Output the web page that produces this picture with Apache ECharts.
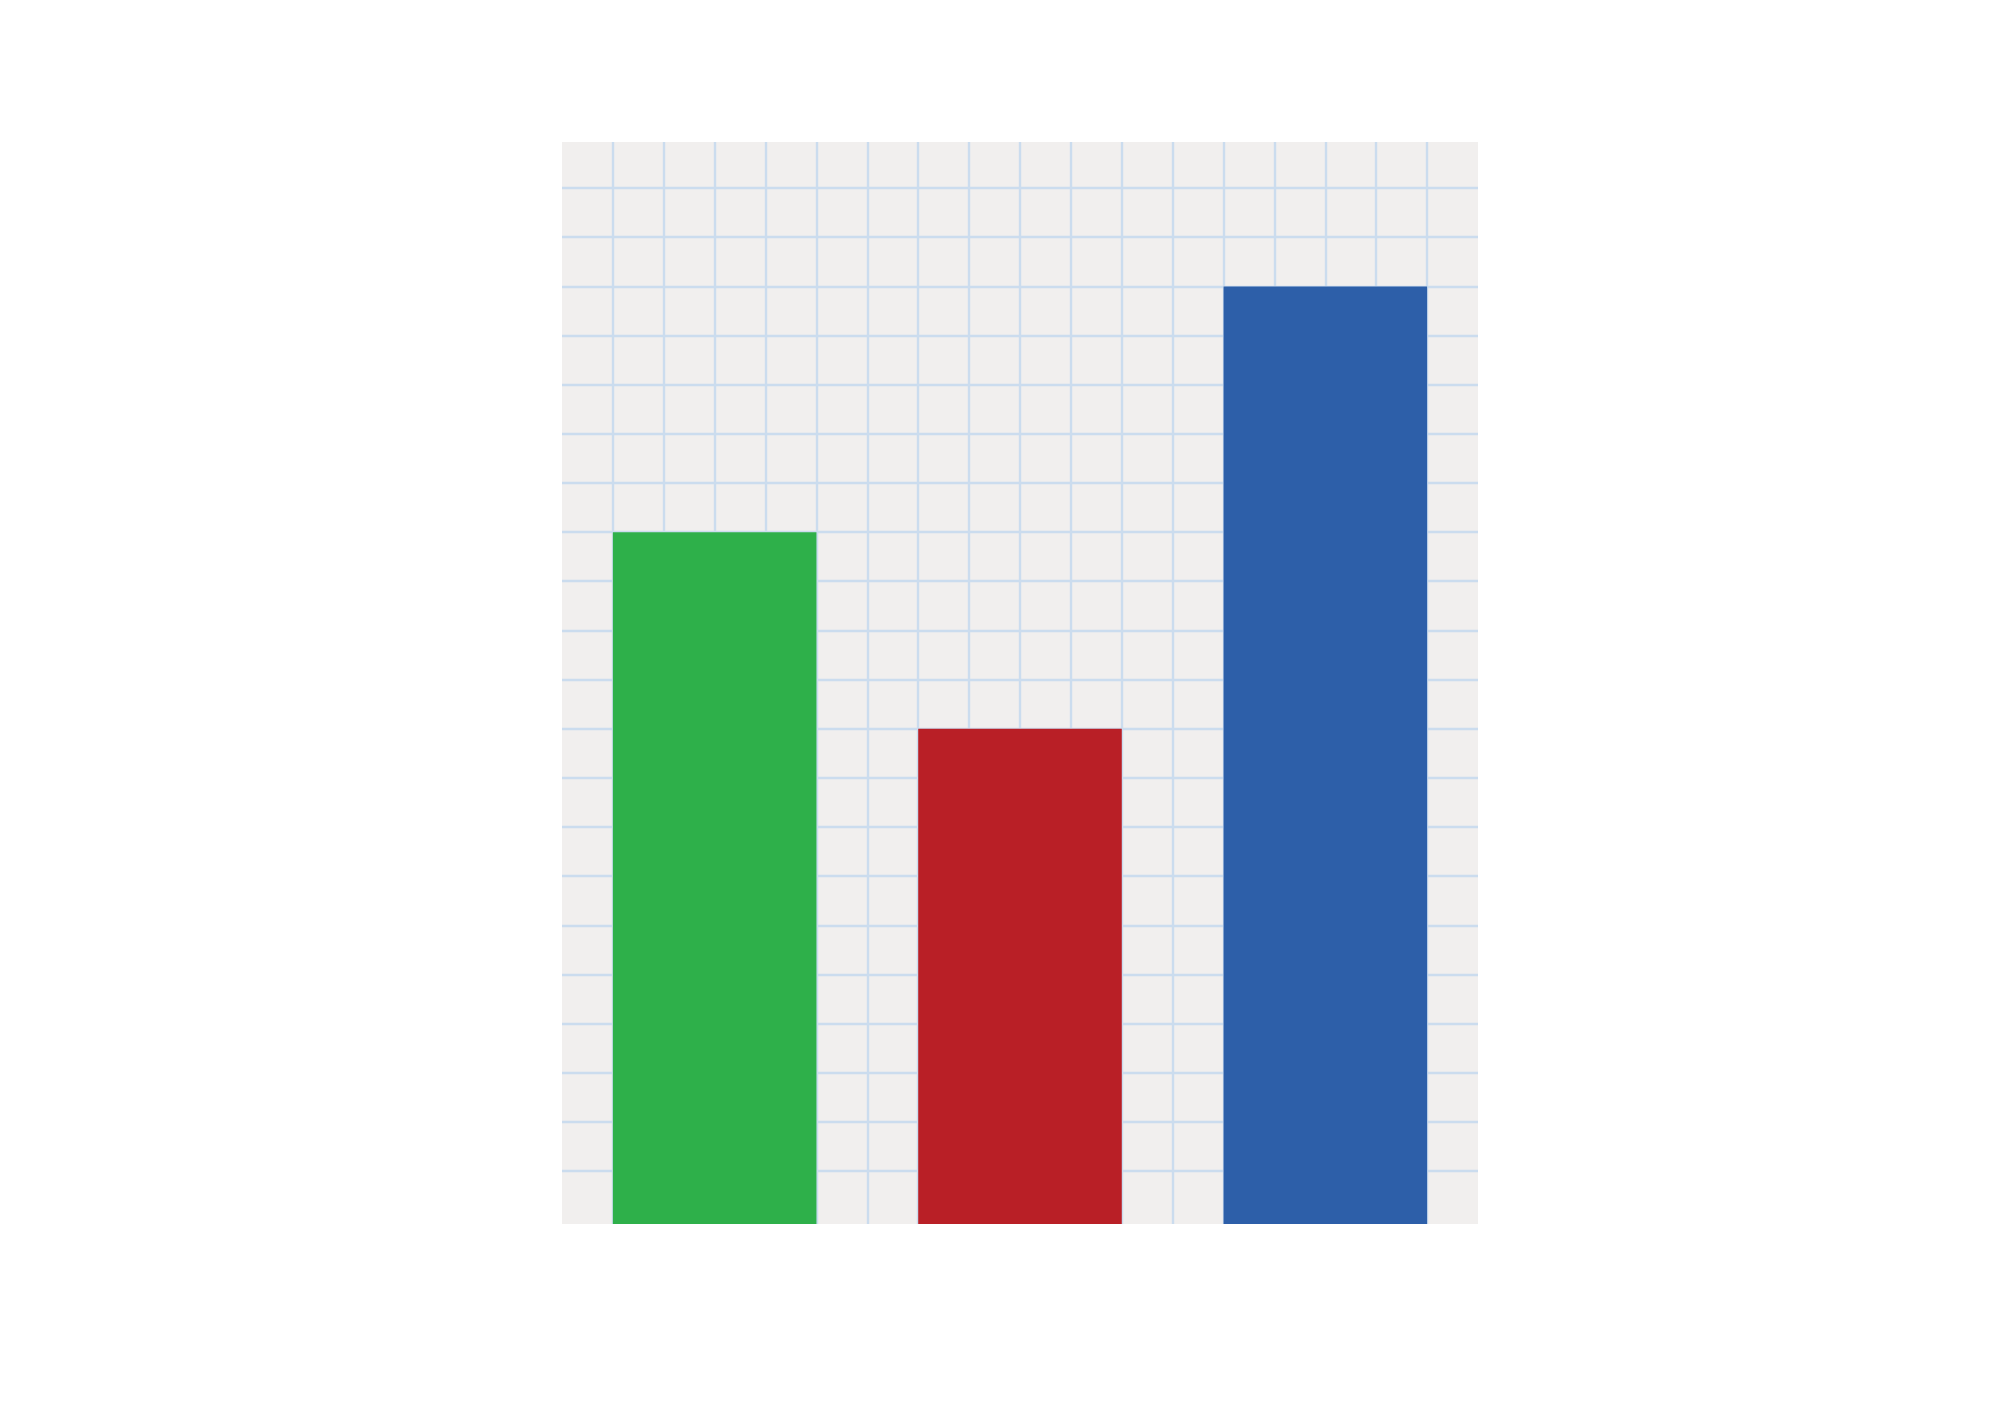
<!DOCTYPE html>
<html>
<head>
<meta charset="utf-8">
<script src="https://cdn.jsdelivr.net/npm/echarts@6/dist/echarts.min.js"></script>
<style>html,body{margin:0;padding:0;background:#fff;}#c{width:2000px;height:1405px;}</style>
</head>
<body>
<div id="c"></div>
<script>
// Data (heights in grid-cell units, measured from the plot floor)
const categories = ['A', 'B', 'C'];
const values = [14.08, 10.08, 19.08];
const barColors = ['#2eb04a', '#b91f26', '#2d5fa9'];

const chart = echarts.init(document.getElementById('c'), null, {renderer: 'canvas'});
const lineStyle = {color: '#cbdcee', width: 2.4};
const hidden = {axisLine: {show: false}, axisTick: {show: false}, axisLabel: {show: false}};

chart.setOption({
  animation: false,
  grid: [
    {left: 562, top: 142, width: 916, height: 1082, show: true, backgroundColor: '#f1efee', borderWidth: 0},
    {left: 562, top: 188, width: 916, height: 983, show: false}
  ],
  xAxis: [
    Object.assign({type: 'category', data: categories, gridIndex: 0, splitLine: {show: false}}, hidden),
    Object.assign({type: 'value', gridIndex: 0, min: 0, max: 18, interval: 1,
      splitLine: {show: true, showMinLine: false, showMaxLine: false, lineStyle: lineStyle}}, hidden),
    Object.assign({type: 'value', gridIndex: 1, min: 0, max: 18, interval: 1, splitLine: {show: false}}, hidden)
  ],
  yAxis: [
    Object.assign({type: 'value', gridIndex: 0, min: 0, max: 22.02, splitLine: {show: false}}, hidden),
    Object.assign({type: 'value', gridIndex: 1, min: 0, max: 20, interval: 1,
      splitLine: {show: true, lineStyle: lineStyle}}, hidden)
  ],
  series: [{
    type: 'bar',
    xAxisIndex: 0,
    yAxisIndex: 0,
    barWidth: '66.67%',
    data: values.map((v, i) => ({value: v, itemStyle: {color: barColors[i]}}))
  }]
});
</script>
</body>
</html>
